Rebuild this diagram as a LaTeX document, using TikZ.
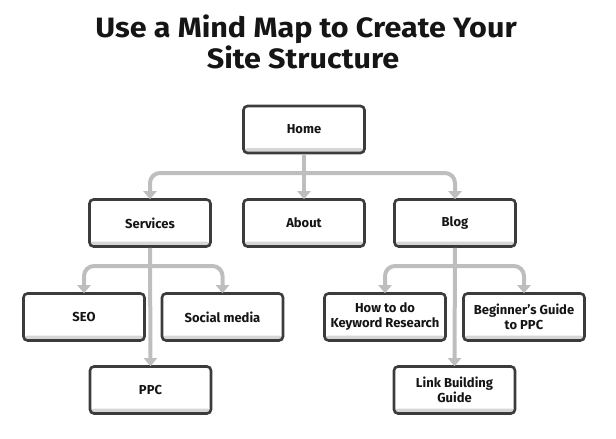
\documentclass[tikz,border=0pt]{standalone}
\usepackage{fontspec}
\setmainfont{Fira Sans}
\newfontfamily\titlefont[FakeStretch=1.09]{Fira Sans}
\usetikzlibrary{arrows.meta}
\definecolor{boxline}{HTML}{3C3C3C}
\definecolor{conncol}{HTML}{BEBEBE}
\definecolor{shadecol}{HTML}{D6D6D6}
\definecolor{txt}{HTML}{151515}
\tikzset{
  box/.style={draw=boxline, line width=2.6pt, rounded corners=4pt, fill=white,
    minimum width=121pt, minimum height=47pt, inner sep=2pt, align=center,
    font=\bfseries\fontsize{13}{15}\selectfont, text=txt,
    path picture={\fill[shadecol] ([yshift=-1pt]path picture bounding box.south west) rectangle ([yshift=5pt]path picture bounding box.south east);}},
  conn/.style={draw=conncol, line width=4pt, rounded corners=10pt},
  arr/.style={conn, -{Triangle[width=13pt,length=8pt]}, shorten >=-1pt},
  titletext/.style={font=\titlefont\bfseries\fontsize{28}{31}\selectfont, text=txt, anchor=base, inner sep=0pt},
}
\begin{document}
\begin{tikzpicture}[x=1pt,y=-1pt]
\useasboundingbox (0,0) rectangle (616,439);
\node[titletext] (title1) at (306,37) {Use a Mind Map to Create Your};
\node[titletext] (title2) at (303,68) {Site Structure};
% nodes
\node[box] (home) at (304,129.5) {Home};
\node[box] (services) at (150,223) {Services};
\node[box] (about) at (304,223) {About};
\node[box] (blog) at (455,223) {Blog};
\node[box] (seo) at (84,317) {SEO};
\node[box] (social) at (222.5,317) {Social media};
\node[box] (ppc) at (150.5,390) {PPC};
\node[box] (howto) at (385,317) {How to do\\Keyword Research};
\node[box] (beginner) at (524,317) {Beginner's Guide\\to PPC};
\node[box] (link) at (454.5,390) {Link Building\\Guide};
\coordinate (b1) at (304,173);
\coordinate (b2) at (150,266);
\coordinate (b3) at (455,266);
% connectors
\draw[arr] (home.south) -- (about.north);
\draw[arr] (b1) -| (services.north);
\draw[arr] (b1) -| (blog.north);
\draw[arr] (services.south) -- (ppc.north);
\draw[arr] (b2) -| (seo.north);
\draw[arr] (b2) -| (social.north);
\draw[arr] (blog.south) -- (link.north);
\draw[arr] (b3) -| (howto.north);
\draw[arr] (b3) -| (beginner.north);
\end{tikzpicture}
\end{document}
